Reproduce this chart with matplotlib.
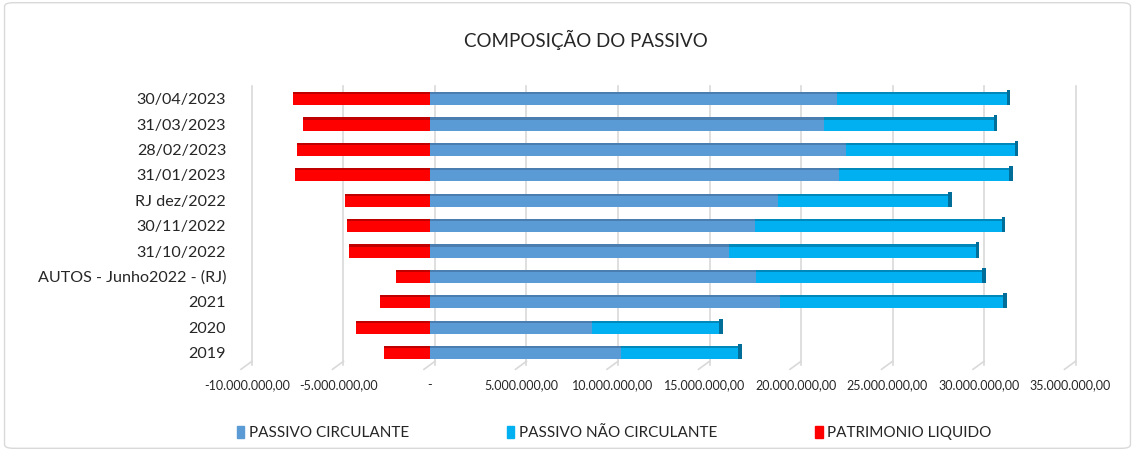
import numpy as np
import matplotlib
matplotlib.use('Agg')
import matplotlib.pyplot as plt
from matplotlib.transforms import ScaledTranslation
from matplotlib.patches import FancyBboxPatch, Patch

# ── dados (de cima para baixo) ──────────────────────────────────────────────
categorias = ['30/04/2023', '31/03/2023', '28/02/2023', '31/01/2023', 'RJ dez/2022',
              '30/11/2022', '31/10/2022', 'AUTOS - Junho2022 - (RJ)', '2021', '2020', '2019']
passivo_circulante = [22.26, 21.55, 22.71, 22.37, 19.03, 17.74, 16.34, 17.80, 19.13, 8.87, 10.44]
passivo_nao_circulante = [9.43, 9.45, 9.44, 9.47, 9.48, 13.68, 13.68, 12.56, 12.38, 7.12, 6.59]
patrimonio_liquido = [-7.50, -6.92, -7.25, -7.36, -4.64, -4.55, -4.41, -1.88, -2.73, -4.04, -2.51]
escala = 1e6
ticks = np.arange(-10, 36, 5) * escala

cores = {'pc': '#5B9BD5', 'pnc': '#00B0F0', 'pl': '#FF0000'}
topo = {'pc': '#4A7DB0', 'pnc': '#0088BB', 'pl': '#C00000'}

plt.rcParams['font.family'] = ['Lato', 'DejaVu Sans']


def fmt_br(v, pos=None):
    if abs(v) < 1:
        return '-'
    s = f'{abs(v):,.2f}'.replace(',', 'X').replace('.', ',').replace('X', '.')
    return ('-' if v < 0 else '') + s


fig = plt.figure(figsize=(11.35, 4.51), dpi=100)
ax = fig.add_axes([0.2176, 0.1900, 0.7256, 0.6195])

n = len(categorias)
y = np.arange(n)[::-1]
pc = np.array(passivo_circulante) * escala
pnc = np.array(passivo_nao_circulante) * escala
pl = np.array(patrimonio_liquido) * escala
h, t = 0.52, 0.09

# faces frontais
ax.barh(y, pl, height=h, color=cores['pl'], zorder=3)
ax.barh(y, pc, height=h, color=cores['pc'], zorder=3)
ax.barh(y, pnc, left=pc, height=h, color=cores['pnc'], zorder=3)
# faixa superior (efeito 3D)
yt = y + h / 2 - t / 2
ax.barh(yt, pl, height=t, color=topo['pl'], zorder=4)
ax.barh(yt, pc, height=t, color=topo['pc'], zorder=4)
ax.barh(yt, pnc, left=pc, height=t, color=topo['pnc'], zorder=4)
# lateral direita
lat = 0.18 * escala
ax.barh(y + 0.04, lat, left=pc + pnc - lat, height=h + 0.08, color='#006E99', zorder=4)

ax.set_xlim(-10 * escala, 35 * escala)
ax.set_ylim(-0.5, n - 0.5)
ax.set_yticks(y)
ax.set_yticklabels(categorias, fontsize=11.6, color='#262626')
ax.set_xticks(ticks)
ax.set_xticklabels([fmt_br(v) for v in ticks], fontsize=9, color='#262626')
ax.tick_params(axis='y', length=0, pad=15)
ax.tick_params(axis='x', length=0, pad=10)
for s in ax.spines.values():
    s.set_visible(False)

# grade na parede de fundo + diagonal do piso
off_back = ScaledTranslation(5 / 100, 0, fig.dpi_scale_trans)
for tv in ticks:
    ax.plot([tv, tv], [0.0, 1.0], transform=ax.get_xaxis_transform() + off_back,
            color='#D9D9D9', lw=1.2, zorder=1, clip_on=False)
    x0 = ax.transData.transform((tv, 0))[0]
    yb = ax.transAxes.transform((0, 0))[1]
    fig.add_artist(plt.Line2D([x0 + 5, x0 - 6], [yb + 4, yb - 4], transform=None,
                              color='#D9D9D9', lw=1.2))

fig.text(0.516, 1 - 40 / 451, 'COMPOSIÇÃO DO PASSIVO', ha='center', va='center',
         fontsize=13.5, color='#262626')

handles = [Patch(color=cores['pc'], label='PASSIVO CIRCULANTE'),
           Patch(color=cores['pnc'], label='PASSIVO NÃO CIRCULANTE'),
           Patch(color=cores['pl'], label='PATRIMONIO LIQUIDO')]
leg = fig.legend(handles=handles, loc='center', bbox_to_anchor=(0.541, 1 - 433 / 451),
                 ncol=3, frameon=False, fontsize=11, handlelength=0.5, handleheight=0.9,
                 handletextpad=0.3, columnspacing=6.4)
for txt in leg.get_texts():
    txt.set_color('#262626')

fig.add_artist(FancyBboxPatch((0.004, 0.006), 0.992, 0.988, transform=fig.transFigure,
                              boxstyle='round,pad=0,rounding_size=0.008',
                              fill=False, edgecolor='#D9D9D9', lw=1))

fig.savefig('out.png', dpi=100)
